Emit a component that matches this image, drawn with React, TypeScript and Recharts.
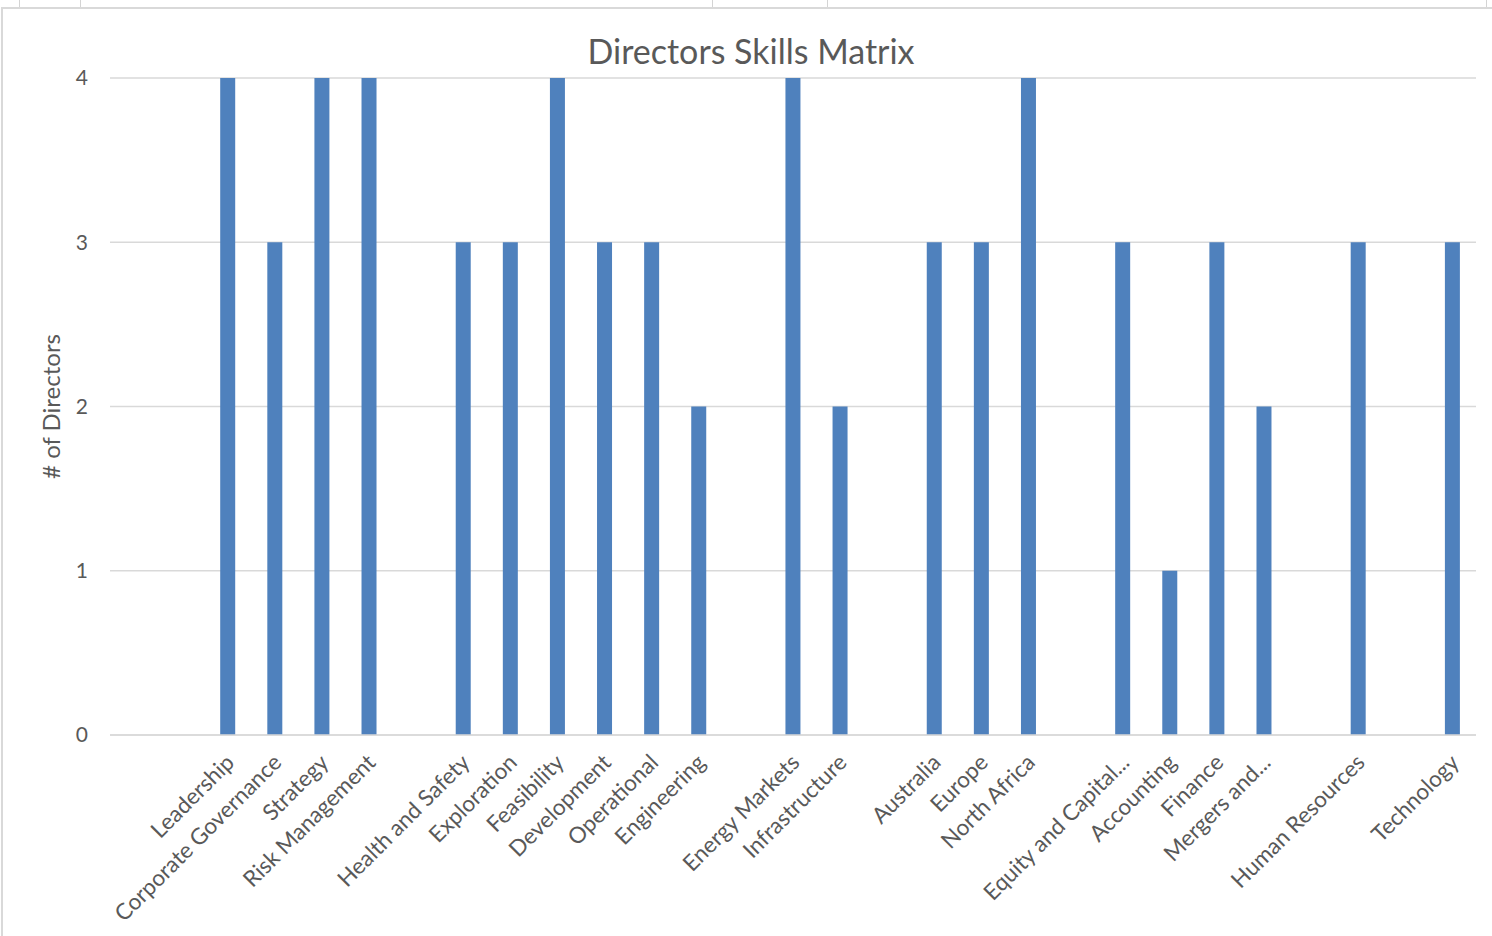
import React from "react";
import { BarChart, Bar, XAxis, YAxis, CartesianGrid } from "recharts";

const categories: string[] = [
  "", "",
  "Leadership", "Corporate Governance", "Strategy", "Risk Management",
  "",
  "Health and Safety", "Exploration", "Feasibility", "Development", "Operational", "Engineering",
  "",
  "Energy Markets", "Infrastructure",
  "",
  "Australia", "Europe", "North Africa",
  "",
  "Equity and Capital...", "Accounting", "Finance", "Mergers and...",
  "",
  "Human Resources",
  "",
  "Technology",
];

const directors: (number | null)[] = [
  null, null,
  4, 3, 4, 4,
  null,
  3, 3, 4, 3, 3, 2,
  null,
  4, 2,
  null,
  3, 3, 4,
  null,
  3, 1, 3, 2,
  null,
  3,
  null,
  3,
];

const yTicks = [0, 1, 2, 3, 4];

const data = categories.map((name, i) => ({ name, value: directors[i] }));

const FONT = "Lato, 'Open Sans', sans-serif";
const TEXT = "#595959";

const XTick = (props: any) => {
  const { x, y, payload } = props;
  if (!payload || !payload.value) return null;
  return (
    <g transform={`translate(${x + 3},${y + 16})`}>
      <text
        transform="rotate(-45)"
        textAnchor="end"
        dy={7}
        fontFamily={FONT}
        fontSize={22.5}
        fill={TEXT}
      >
        {payload.value}
      </text>
    </g>
  );
};

export default function App() {
  return (
    <div style={{ position: "absolute", left: 0, top: 0, width: 1492, height: 936, background: "#fff", overflow: "hidden" }}>
      {[19, 80, 712, 827, 1486].map((x) => (
        <div key={x} style={{ position: "absolute", left: x, top: 0, width: 1, height: 7, background: "#d4d4d4" }} />
      ))}
      <div style={{ position: "absolute", left: 1, top: 7, width: 1500, height: 940, border: "2px solid #d9d9d9", boxSizing: "border-box" }} />
      <div
        style={{
          position: "absolute",
          left: 0,
          width: 1502,
          top: 30,
          textAlign: "center",
          fontFamily: FONT,
          fontSize: 34,
          color: TEXT,
          lineHeight: "42px",
        }}
      >
        Directors Skills Matrix
      </div>
      <div style={{ position: "absolute", left: 0, top: 0 }}>
        <BarChart
          width={1492}
          height={936}
          data={data}
          margin={{ top: 78, right: 16, bottom: 0, left: 50 }}
          barCategoryGap={0}
        >
          <CartesianGrid vertical={false} stroke="#d9d9d9" strokeWidth={1.5} />
          <XAxis
            dataKey="name"
            interval={0}
            height={201}
            axisLine={{ stroke: "#d9d9d9", strokeWidth: 1.5 }}
            tickLine={false}
            tick={<XTick />}
          />
          <YAxis
            domain={[0, 4]}
            ticks={yTicks}
            width={60}
            axisLine={false}
            tickLine={false}
            tickSize={0}
            tickMargin={22}
            tick={{ fontFamily: FONT, fontSize: 21, fill: TEXT }}
            label={{
              value: "# of Directors",
              angle: -90,
              position: "insideLeft",
              dx: -4,
              style: { fontFamily: FONT, fontSize: 24, fill: TEXT, textAnchor: "middle" },
            }}
          />
          <Bar dataKey="value" fill="#4f81bd" barSize={15} isAnimationActive={false} />
        </BarChart>
      </div>
    </div>
  );
}
